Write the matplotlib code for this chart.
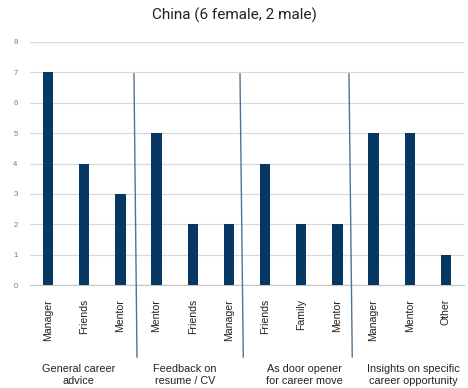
import matplotlib
matplotlib.use("Agg")
import matplotlib.pyplot as plt

title = "China (6 female, 2 male)"
groups = ["General career\nadvice", "Feedback on\nresume / CV",
          "As door opener\nfor career move", "Insights on specific\ncareer opportunity"]
categories = ["Manager", "Friends", "Mentor",
              "Mentor", "Friends", "Manager",
              "Friends", "Family", "Mentor",
              "Manager", "Mentor", "Other"]
values = [7, 4, 3, 5, 2, 2, 4, 2, 2, 5, 5, 1]
yticks = [0, 1, 2, 3, 4, 5, 6, 7, 8]

bar_color = "#073763"
sep_color = "#4f7393"
label_font = ["Liberation Sans", "DejaVu Sans"]

fig = plt.figure(figsize=(4.68, 3.88), dpi=100)
ax = fig.add_axes([30 / 468, 1 - 285 / 388, 434 / 468, 243 / 388])

x = list(range(len(values)))
ax.bar(x, values, width=0.29, color=bar_color, zorder=3)

ax.set_xlim(-0.5, len(values) - 0.5)
ax.set_ylim(0, 8)
ax.set_yticks(yticks)
ax.set_yticklabels([str(v) for v in yticks], family=label_font, fontsize=5.5, color="#777777")
ax.yaxis.grid(True, color="#d9d9d9", linewidth=0.9, zorder=0)
ax.tick_params(axis="y", length=0, pad=9)
ax.tick_params(axis="x", length=0, pad=10)
ax.set_xticks(x)
ax.set_xticklabels(categories, rotation=90, family=label_font, fontsize=7.6,
                   color="#222222", va="top")
for s in ["top", "right", "left"]:
    ax.spines[s].set_visible(False)
ax.spines["bottom"].set_color("#c8c8c8")
ax.spines["bottom"].set_linewidth(0.9)

# group separators, running down past the category labels
separators = [(2.375, 2.458), (5.306, 5.397), (8.32, 8.41)]
for top_x, bottom_x in separators:
    ax.plot([top_x, bottom_x], [6.95, -2.37], color=sep_color, linewidth=1.0,
            clip_on=False, zorder=4)

# group captions under the category labels
group_x = [0.85, 3.79, 7.08, 10.1]
for gx, name in zip(group_x, groups):
    ax.text(gx, -2.6, name, ha="center", va="top", family=label_font,
            fontsize=7.8, color="#222222", linespacing=1.2, clip_on=False)

fig.suptitle(title, y=1 - 8 / 388, va="top", family=["Roboto", "DejaVu Sans"],
             fontsize=11, color="#222222")

fig.savefig("out.png", dpi=100, facecolor="white")
